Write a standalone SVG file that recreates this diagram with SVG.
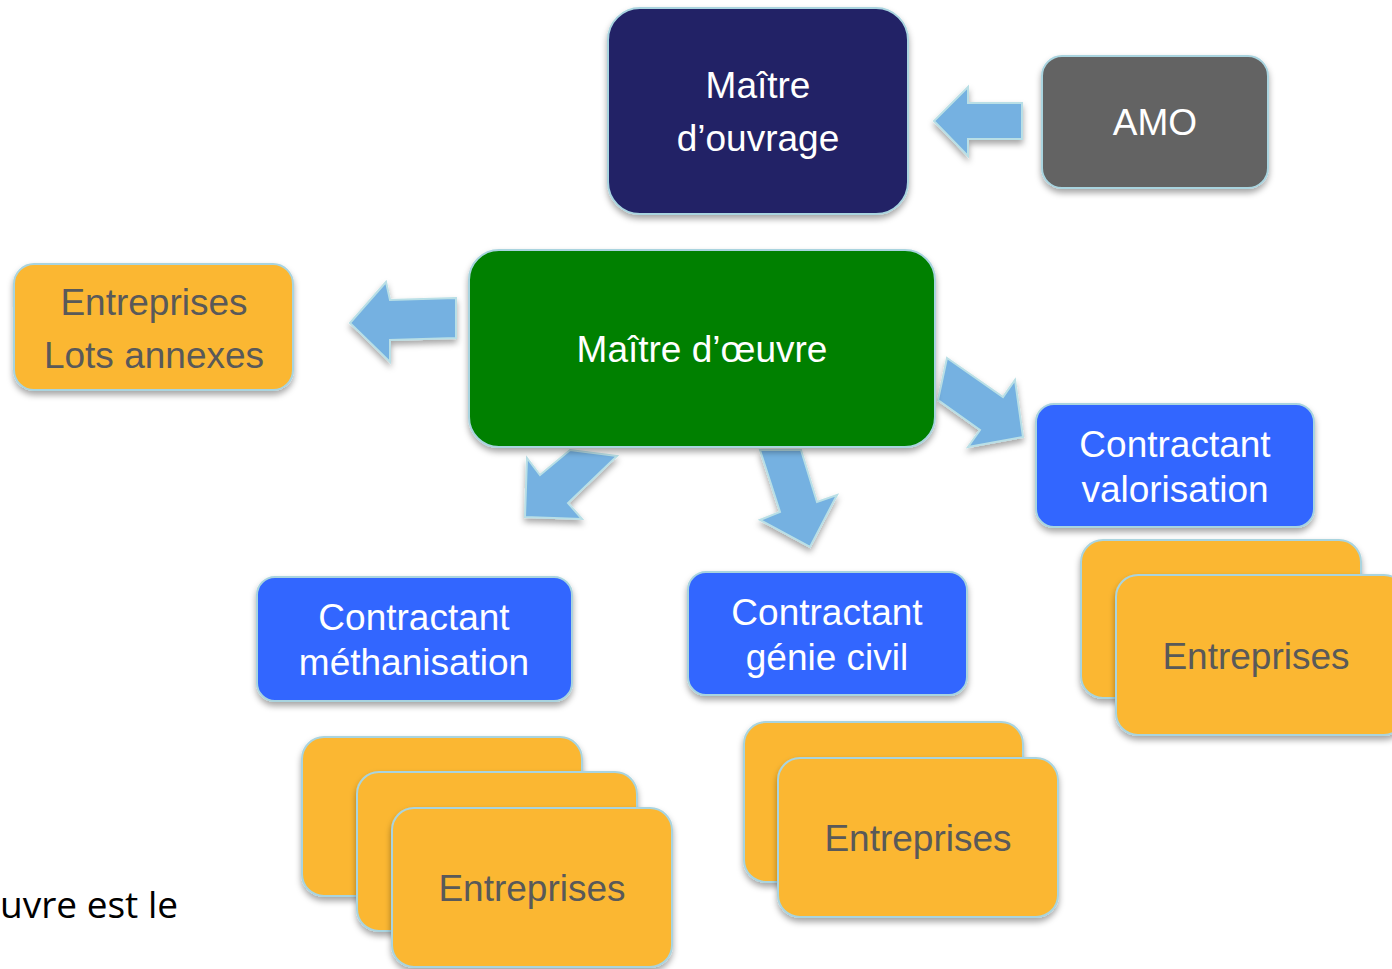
<svg xmlns="http://www.w3.org/2000/svg" width="1392" height="969" viewBox="0 0 1392 969">
<defs>
<filter id="sh" x="-10%" y="-10%" width="120%" height="130%">
<feDropShadow dx="0" dy="4" stdDeviation="3" flood-color="#000" flood-opacity="0.35"/>
</filter>
<style>
.box{stroke:#a9d4df;stroke-width:2;filter:url(#sh)}
.navy{fill:#222266}.green{fill:#008000}.grey{fill:#636363}.blue{fill:#3366ff}.orange{fill:#fbb732}
.arr{fill:#74b1e1;stroke:#b9dfe6;stroke-width:2;stroke-linejoin:miter;filter:url(#sh)}
.tw{font-family:"Liberation Sans",Arial,sans-serif;font-size:37px;fill:#fff;text-anchor:middle}
.tg{font-family:"Liberation Sans",Arial,sans-serif;font-size:37px;fill:#595959;text-anchor:middle}
</style>
</defs>
<rect width="1392" height="969" fill="#fff"/>
<g id="connectors">
<polygon class="arr" points="1022,103 968,103 968,87 934,121 968,156 968,139 1022,139"/>
<polygon class="arr" points="456,298 390,300 386,282 350,323 390,362 390,340 456,338"/>
<polygon class="arr" points="570,450 617,456 568,503 582,519 525,517 527,458 540,475"/>
<polygon class="arr" points="760,450 801,450 817,502 837,495 810,547 760,520 780,512"/>
<polygon class="arr" points="947,358 1003,397 1015,380 1023,437 968,447 980,430 938,400"/>
</g>
<g id="maitre-ouvrage">
<rect class="box navy" x="608" y="8" width="300" height="206" rx="32"/>
<text class="tw" x="758" y="98">Maître</text>
<text class="tw" x="758" y="151">d’ouvrage</text>
</g>
<g id="amo">
<rect class="box grey" x="1042" y="56" width="226" height="132" rx="20"/>
<text class="tw" x="1155" y="135">AMO</text>
</g>
<g id="maitre-oeuvre">
<rect class="box green" x="469" y="250" width="466" height="197" rx="30"/>
<text class="tw" x="702" y="362">Maître d’œuvre</text>
</g>
<g id="lots-annexes">
<rect class="box orange" x="14" y="264" width="279" height="126" rx="20"/>
<text class="tg" x="154" y="315">Entreprises</text>
<text class="tg" x="154" y="368">Lots annexes</text>
</g>
<g id="contractant-valorisation">
<rect class="box blue" x="1036" y="404" width="278" height="123" rx="18"/>
<text class="tw" x="1175" y="457">Contractant</text>
<text class="tw" x="1175" y="502">valorisation</text>
</g>
<g id="contractant-methanisation">
<rect class="box blue" x="257" y="577" width="315" height="124" rx="18"/>
<text class="tw" x="414" y="630">Contractant</text>
<text class="tw" x="414" y="675">méthanisation</text>
</g>
<g id="contractant-genie-civil">
<rect class="box blue" x="688" y="572" width="279" height="123" rx="18"/>
<text class="tw" x="827" y="625">Contractant</text>
<text class="tw" x="827" y="670">génie civil</text>
</g>
<g id="entreprises-valorisation">
<rect class="box orange" x="1081" y="540" width="280" height="158" rx="22"/>
<rect class="box orange" x="1116" y="575" width="290" height="160" rx="22"/>
<text class="tg" x="1256" y="669">Entreprises</text>
</g>
<g id="entreprises-methanisation">
<rect class="box orange" x="302" y="737" width="280" height="159" rx="22"/>
<rect class="box orange" x="357" y="772" width="280" height="159" rx="22"/>
<rect class="box orange" x="392" y="808" width="280" height="159" rx="22"/>
<text class="tg" x="532" y="901">Entreprises</text>
</g>
<g id="entreprises-genie-civil">
<rect class="box orange" x="744" y="722" width="279" height="160" rx="22"/>
<rect class="box orange" x="778" y="758" width="280" height="159" rx="22"/>
<text class="tg" x="918" y="851">Entreprises</text>
</g>
<text x="0" y="918" font-family="'Open Sans','Liberation Sans',sans-serif" font-size="37" fill="#000">uvre est le</text>
</svg>
